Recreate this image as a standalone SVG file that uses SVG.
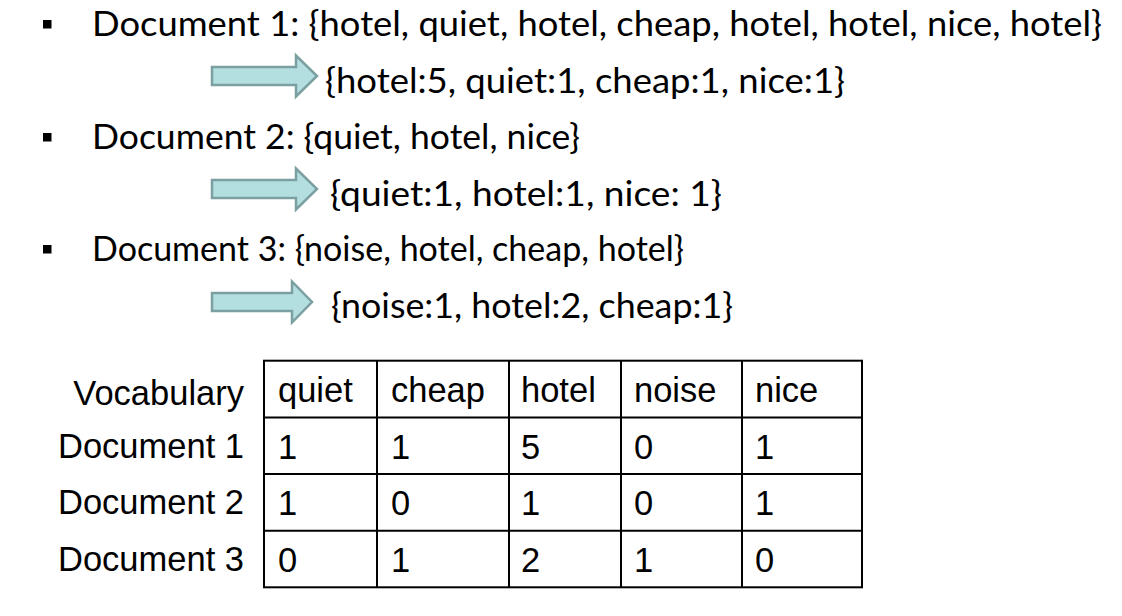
<svg xmlns="http://www.w3.org/2000/svg" width="1122" height="616" viewBox="0 0 1122 616">
<style>
.t{font-family:Lato,"Open Sans","Noto Sans",sans-serif;font-size:35px;fill:#000}
.b{fill:#000}
.arr{fill:#b3dfe0;stroke:#7c9fa1;stroke-width:2.5;stroke-linejoin:miter}
.tb{font-family:"Liberation Sans",Arial,sans-serif;font-size:34.5px;fill:#000}
.lbl{text-anchor:end}
.grid{stroke:#000;stroke-width:2;fill:none}
</style>
<rect width="1122" height="616" fill="#fff"/>
<g id="doc1">
<rect class="b" x="43" y="20" width="8.5" height="8.5"/>
<text class="t" x="92" y="36" textLength="1010" lengthAdjust="spacingAndGlyphs">Document 1: {hotel, quiet, hotel, cheap, hotel, hotel, nice, hotel}</text>
</g>
<g id="bow1">
<text class="t" x="325" y="93" textLength="520" lengthAdjust="spacingAndGlyphs">{hotel:5, quiet:1, cheap:1, nice:1}</text>
</g>
<g id="doc2">
<rect class="b" x="43" y="133" width="8.5" height="8.5"/>
<text class="t" x="92" y="149" textLength="488" lengthAdjust="spacingAndGlyphs">Document 2: {quiet, hotel, nice}</text>
</g>
<g id="bow2">
<text class="t" x="330" y="206" textLength="392" lengthAdjust="spacingAndGlyphs">{quiet:1, hotel:1, nice: 1}</text>
</g>
<g id="doc3">
<rect class="b" x="43" y="245" width="8.5" height="8.5"/>
<text class="t" x="92" y="261" textLength="592" lengthAdjust="spacingAndGlyphs">Document 3: {noise, hotel, cheap, hotel}</text>
</g>
<g id="bow3">
<text class="t" x="331" y="318" textLength="402" lengthAdjust="spacingAndGlyphs">{noise:1, hotel:2, cheap:1}</text>
</g>
<g id="connectors">
<polygon class="arr" points="212,67 296,67 296,55.5 317,76 296,96.5 296,85 212,85"/>
<polygon class="arr" points="212,180 296,180 296,168.5 317,189 296,209.5 296,198 212,198"/>
<polygon class="arr" points="212,293 292,293 292,281.5 312,302 292,322.5 292,311 212,311"/>
</g>
<g id="table">
<g class="grid">
<rect x="264" y="360.7" width="598" height="226.6"/>
<line x1="264" y1="417.4" x2="862" y2="417.4"/>
<line x1="264" y1="474" x2="862" y2="474"/>
<line x1="264" y1="530.7" x2="862" y2="530.7"/>
<line x1="377" y1="360.7" x2="377" y2="587.3"/>
<line x1="509" y1="360.7" x2="509" y2="587.3"/>
<line x1="621" y1="360.7" x2="621" y2="587.3"/>
<line x1="742" y1="360.7" x2="742" y2="587.3"/>
</g>
<g class="tb lbl">
<text x="244" y="405">Vocabulary</text>
<text x="244" y="458">Document 1</text>
<text x="244" y="514">Document 2</text>
<text x="244" y="571">Document 3</text>
</g>
<g class="tb">
<text x="278" y="402">quiet</text><text x="391" y="402">cheap</text><text x="521" y="402">hotel</text><text x="634" y="402">noise</text><text x="755" y="402">nice</text>
<text x="278" y="459">1</text><text x="391" y="459">1</text><text x="521" y="459">5</text><text x="634" y="459">0</text><text x="755" y="459">1</text>
<text x="278" y="515">1</text><text x="391" y="515">0</text><text x="521" y="515">1</text><text x="634" y="515">0</text><text x="755" y="515">1</text>
<text x="278" y="572">0</text><text x="391" y="572">1</text><text x="521" y="572">2</text><text x="634" y="572">1</text><text x="755" y="572">0</text>
</g>
</g>
</svg>
